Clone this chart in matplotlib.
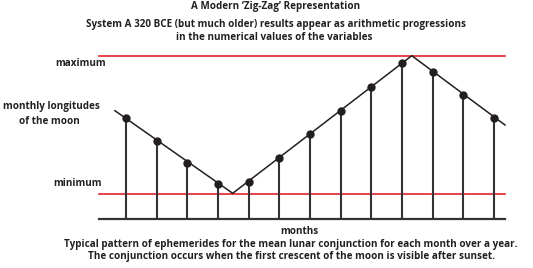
import matplotlib
matplotlib.use("Agg")
import matplotlib.pyplot as plt

# ---- data ----
months = list(range(1, 14))
longitudes = [101, 78, 56, 35, 37, 61, 85, 108, 132, 156, 147, 124, 101]
zigzag_x = [0.64, 4.48, 10.32, 13.36]
zigzag_y = [108, 25.4, 163, 93.7]
minimum_value = 24.7
maximum_value = 163

title = "A Modern \u2018Zig-Zag\u2019 Representation"
subtitle = ["System A 320 BCE (but much older) results appear as arithmetic progressions",
            "in the numerical values of the variables"]
caption = ["Typical pattern of ephemerides for the mean lunar conjunction for each month over a year.",
           "The conjunction occurs when the first crescent of the moon is visible after sunset."]

W, H = 533, 268
fig = plt.figure(figsize=(W / 100, H / 100), dpi=100)
plt.rcParams['font.family'] = ['Open Sans', 'DejaVu Sans']

x0, x1 = 99, 505
ybase, ytop = 218.7, 50
ax = fig.add_axes([x0 / W, (H - ybase) / H, (x1 - x0) / W, (ybase - ytop) / H])
ax.set_xlim(0.12, 13.36)
ax.set_ylim(0, ybase - ytop)
ax.axis('off')

red = '#e4222b'
dark = '#231f20'
ax.axhline(maximum_value, color=red, lw=1.2, clip_on=False)
ax.axhline(minimum_value, color=red, lw=1.2, clip_on=False)
ax.vlines(months, 0, longitudes, color='#333333', lw=1.5)
ax.plot(zigzag_x, zigzag_y, color=dark, lw=1.1, clip_on=False)
ax.plot(months, longitudes, 'o', color=dark, ms=5.0, clip_on=False)
ax.axhline(0, color='#333333', lw=1.6, clip_on=False)

def ftext(px, py, s, ha='center', size=7.1):
    fig.text(px / W, 1 - py / H, s, ha=ha, va='center', fontsize=size,
             fontweight='bold', color=dark)

ftext(276, 6, title)
ftext(276, 25, subtitle[0])
ftext(274, 38, subtitle[1])
ftext(81, 63, "maximum")
ftext(51, 107, "monthly longitudes")
ftext(49, 122, "of the moon")
ftext(77, 184, "minimum")
ftext(299, 231, "months")
ftext(291, 244, caption[0])
ftext(292, 257, caption[1])

fig.savefig("out.png", dpi=100, facecolor='white')
